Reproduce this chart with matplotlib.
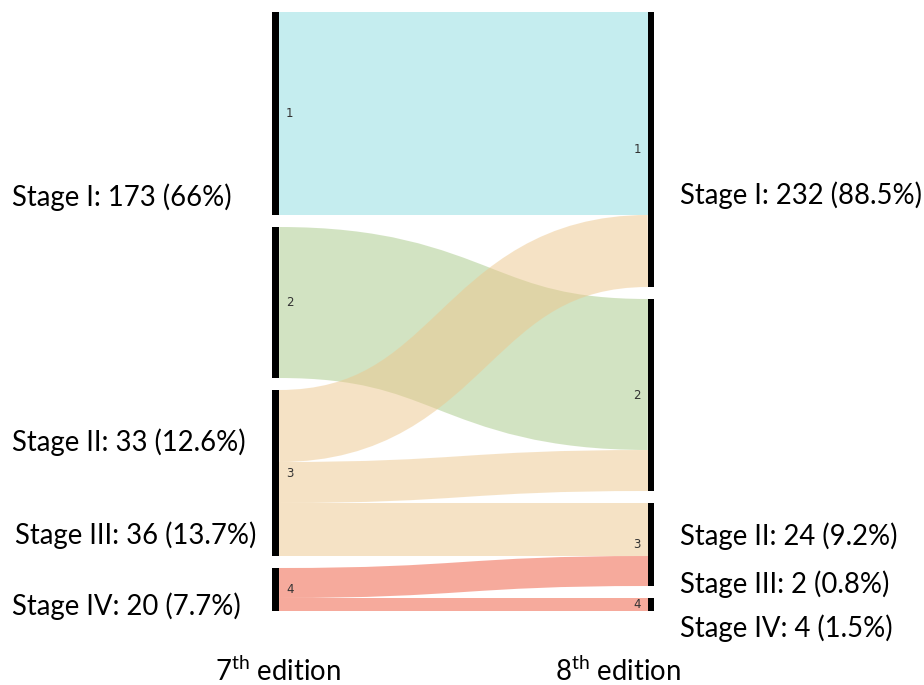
import matplotlib
matplotlib.use("Agg")
import matplotlib.pyplot as plt
from matplotlib.path import Path
from matplotlib.patches import PathPatch, Rectangle

# ---- data ----
node_names = ["1", "2", "3", "4"]
link_source = [0, 1, 2, 2, 2, 3, 3]
link_target = [0, 1, 0, 1, 2, 2, 3]
link_value = [203, 151, 72, 41, 53, 30, 13]
node_colors = ["#8ddde1", "#a7c987", "#edc78d", "#ef573b"]

left_labels = ["Stage I: 173 (66%)", "Stage II: 33 (12.6%)",
               "Stage III: 36 (13.7%)", "Stage IV: 20 (7.7%)"]
right_labels = ["Stage I: 232 (88.5%)", "Stage II: 24 (9.2%)",
                "Stage III: 2 (0.8%)", "Stage IV: 4 (1.5%)"]
axis_labels = ["7$^{\\mathrm{th}}$ edition", "8$^{\\mathrm{th}}$ edition"]

# ---- style ----
FONT = "Lato"
plt.rcParams["font.family"] = [FONT, "DejaVu Sans"]
plt.rcParams["mathtext.fontset"] = "custom"
plt.rcParams["mathtext.rm"] = FONT
plt.rcParams["mathtext.it"] = FONT + ":italic"
plt.rcParams["mathtext.bf"] = FONT + ":bold"

W, H, DPI = 924, 685, 100
fig = plt.figure(figsize=(W / DPI, H / DPI), dpi=DPI)
ax = fig.add_axes([0, 0, 1, 1])
ax.set_xlim(0, W)
ax.set_ylim(H, 0)
ax.axis("off")

top, bottom, pad = 12, 611, 12
lx0, lx1 = 272, 279   # left node bar
rx0, rx1 = 648, 654   # right node bar

n = len(node_names)
left_tot = [sum(v for s, v in zip(link_source, link_value) if s == i) for i in range(n)]
right_tot = [sum(v for t, v in zip(link_target, link_value) if t == i) for i in range(n)]
ky = (bottom - top - pad * (n - 1)) / max(sum(left_tot), sum(right_tot))

def stack(tots):
    ys, y = [], top
    for t in tots:
        ys.append(y)
        y += t * ky + pad
    return ys

ly = stack(left_tot)
ry = stack(right_tot)

# link offsets
src_off = list(ly)
tgt_off = list(ry)
order_src = sorted(range(len(link_value)), key=lambda k: (link_source[k], link_target[k]))
ys0 = {}
for k in order_src:
    s = link_source[k]
    ys0[k] = src_off[s]
    src_off[s] += link_value[k] * ky
order_tgt = sorted(range(len(link_value)), key=lambda k: (link_target[k], link_source[k]))
ys1 = {}
for k in order_tgt:
    t = link_target[k]
    ys1[k] = tgt_off[t]
    tgt_off[t] += link_value[k] * ky

xm = (lx1 + rx0) / 2
for k in range(len(link_value)):
    w = link_value[k] * ky
    y0 = ys0[k] + w / 2
    y1 = ys1[k] + w / 2
    p = Path([(lx1, y0), (xm, y0), (xm, y1), (rx0, y1)],
             [Path.MOVETO, Path.CURVE4, Path.CURVE4, Path.CURVE4])
    ax.add_patch(PathPatch(p, facecolor="none", edgecolor=node_colors[link_source[k]],
                           lw=w * 72 / DPI, alpha=0.5, capstyle="butt"))

for i in range(n):
    h = left_tot[i] * ky
    ax.add_patch(Rectangle((lx0, ly[i]), lx1 - lx0, h, color="black", lw=0))
    ax.text(lx1 + 7, ly[i] + h / 2, node_names[i], fontsize=8.5, color="#333333",
            ha="left", va="center", family="DejaVu Sans")
    h2 = right_tot[i] * ky
    ax.add_patch(Rectangle((rx0, ry[i]), rx1 - rx0, h2, color="black", lw=0))
    ax.text(rx0 - 7, ry[i] + h2 / 2, node_names[i], fontsize=8.5, color="#333333",
            ha="right", va="center", family="DejaVu Sans")

fs = 19.8
left_pos = [(12, 197), (12, 442), (15, 535), (12, 606)]
right_pos = [(680, 195), (680, 536), (680, 584), (680, 628)]
for (x, y), t in zip(left_pos, left_labels):
    ax.text(x, y, t, fontsize=fs, ha="left", va="center", color="black")
for (x, y), t in zip(right_pos, right_labels):
    ax.text(x, y, t, fontsize=fs, ha="left", va="center", color="black")
ax.text(215, 671, axis_labels[0], fontsize=fs, ha="left", va="center")
ax.text(555, 671, axis_labels[1], fontsize=fs, ha="left", va="center")

fig.savefig("out.png", dpi=DPI)
